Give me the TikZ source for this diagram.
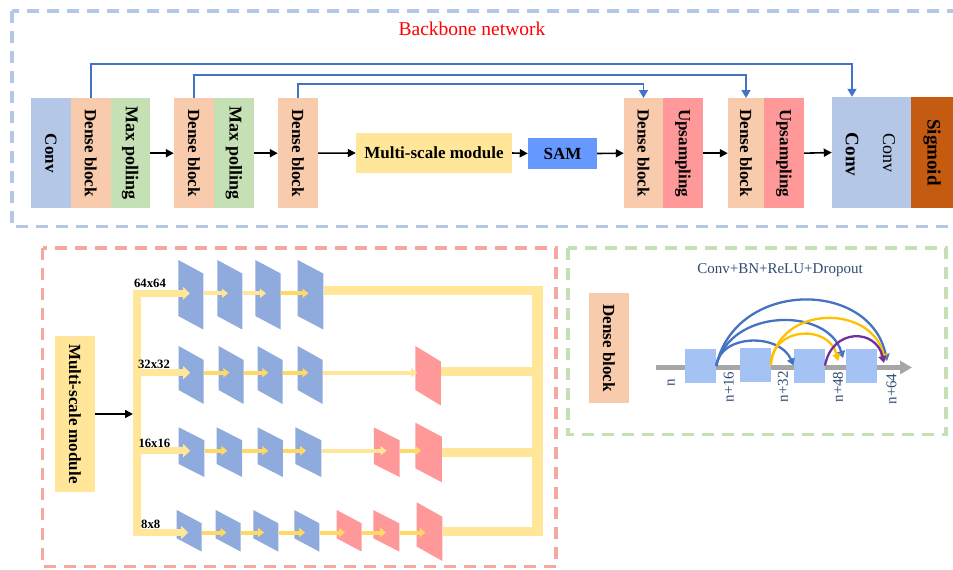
\documentclass[tikz,border=0pt]{standalone}
\usepackage{fontspec}
\setmainfont{Liberation Serif}
\usepackage{graphicx}
\usetikzlibrary{arrows.meta,calc}
\definecolor{cConv}{RGB}{180,199,231}
\definecolor{cPeach}{RGB}{248,203,173}
\definecolor{cGreen}{RGB}{197,224,180}
\definecolor{cYel}{RGB}{255,230,153}
\definecolor{cYelD}{RGB}{255,217,102}
\definecolor{cSam}{RGB}{102,153,255}
\definecolor{cUp}{RGB}{255,153,153}
\definecolor{cSig}{RGB}{197,90,17}
\definecolor{cSkip}{RGB}{68,114,196}
\definecolor{cTrapB}{RGB}{143,170,220}
\definecolor{cTrapR}{RGB}{255,153,153}
\definecolor{cSq}{RGB}{164,194,244}
\definecolor{cGray}{RGB}{166,166,166}
\definecolor{cArcY}{RGB}{255,192,0}
\definecolor{cArcP}{RGB}{112,48,160}
\definecolor{cLab}{RGB}{47,75,115}
\definecolor{cRedBox}{RGB}{245,168,160}
\definecolor{cGreenBox}{RGB}{197,224,180}
\definecolor{cBlueBox}{RGB}{180,199,231}
\newcommand\trp[7]{%
  \fill[#7] (#2,#3) -- ++(#4,#6) -- ++(0,#5) -- ++(-#4,-#6) -- cycle;
  \node[inner sep=0pt, minimum width=#4pt, minimum height=#5pt] (#1) at ({#2+#4/2},{#3+#5/2+#6/2}) {};
}
\tikzset{
  blk/.style={rectangle, inner sep=0pt, minimum height=110pt, font=\fontsize{17}{17}\selectfont\bfseries},
  arr/.style={line width=1.6pt, -{Triangle[length=8pt,width=8pt]}},
  skipline/.style={draw=cSkip, line width=1.6pt, -{Triangle[length=8pt,width=9pt]}},
  dashbox/.style={line width=3.5pt, dash pattern=on 12pt off 8pt},
  barr/.style={draw=cYel, line width=6.5pt, -{Triangle[length=7pt,width=13pt]}, shorten >=-11.7pt},
  iarr/.style={draw=cYelD, line width=4pt, -{Triangle[length=6pt,width=9pt]}, shorten >=-11pt},
  outl/.style={draw=cYel, line width=9pt},
  sq/.style={fill=cSq, inner sep=0pt, minimum width=31pt, minimum height=34pt},
  lab/.style={text=cLab, font=\fontsize{15}{15}\selectfont, inner sep=0pt, rotate=90},
  darc/.style={line width=2.3pt, -{Triangle[length=7pt,width=8pt]}},
  rowlab/.style={font=\fontsize{12.7}{12.7}\selectfont\bfseries, inner sep=0pt},
}
\begin{document}
\begin{tikzpicture}[x=1pt,y=-1pt]
\useasboundingbox (0,0) rectangle (953,570);
% ---------- dashed frames
\draw[dashbox, cBlueBox] (12,11) rectangle (960,226.7);
\draw[dashbox, cRedBox] (42.5,248) rectangle (556,566.7);
\draw[dashbox, cGreenBox] (568,248) rectangle (946,434.3);
\node[text=red, font=\fontsize{19.5}{19.5}\selectfont, inner sep=0pt] (title) at (472,29) {Backbone network};
% ---------- backbone blocks
\node[blk, fill=cConv, minimum width=40pt] (cv1) at (51,153.2) {\rotatebox{-90}{Conv}};
\node[blk, fill=cPeach, minimum width=39.5pt] (db1) at (90.75,153.2) {\rotatebox{-90}{Dense block}};
\node[blk, fill=cGreen, minimum width=39.5pt] (mp1) at (130.25,153.2) {\rotatebox{-90}{\fontsize{18}{18}\selectfont Max polling}};
\node[blk, fill=cPeach, minimum width=40pt] (db2) at (194,153.2) {\rotatebox{-90}{Dense block}};
\node[blk, fill=cGreen, minimum width=40pt] (mp2) at (234,153.2) {\rotatebox{-90}{\fontsize{18}{18}\selectfont Max polling}};
\node[blk, fill=cPeach, minimum width=40pt] (db3) at (298,153.2) {\rotatebox{-90}{Dense block}};
\node[blk, fill=cYel, minimum width=156pt, minimum height=40pt] (ms) at (434,153) {Multi-scale module};
\node[blk, fill=cSam, minimum width=69pt, minimum height=31pt] (sam) at (562.5,153.5) {SAM};
\node[blk, fill=cPeach, minimum width=39pt] (db4) at (643.5,153.2) {\rotatebox{-90}{Dense block}};
\node[blk, fill=cUp, minimum width=40pt] (up1) at (683,153.2) {\rotatebox{-90}{Upsampling}};
\node[blk, fill=cPeach, minimum width=36pt] (db5) at (746,153.2) {\rotatebox{-90}{Dense block}};
\node[blk, fill=cUp, minimum width=40pt] (up2) at (784,153.2) {\rotatebox{-90}{Upsampling}};
\node[blk, fill=cConv, minimum width=79pt, minimum height=111pt] (cv2) at (871.5,152.5) {};
\node[inner sep=0pt, font=\fontsize{19}{19}\selectfont\bfseries] (cva) at (852,154.5) {\rotatebox{-90}{Conv}};
\node[inner sep=0pt, font=\fontsize{18}{18}\selectfont] (cvb) at (889,153) {\rotatebox{-90}{Conv}};
\node[blk, fill=cSig, minimum width=42pt, minimum height=111pt, font=\fontsize{19}{19}\selectfont\bfseries] (sig) at (932,152.5) {\rotatebox{-90}{Sigmoid}};
% main arrows
\draw[arr] (mp1.east) -- (db2.west);
\draw[arr] (mp2.east) -- (db3.west);
\draw[arr] (db3.east) -- (ms.west);
\draw[arr] (ms.east) -- (sam.west);
\draw[arr] (sam.east) -- (db4.west);
\draw[arr] (up1.east) -- (db5.west);
\draw[arr] (up2.east) -- (cv2.west);
% skip connections
\coordinate (k1) at (0,64);
\coordinate (k2) at (0,74.7);
\coordinate (k3) at (0,83.7);
\draw[skipline] (db1.north) -- (db1.north |- k1) -| (cva |- cv2.north);
\draw[skipline] (db2.north) -- (db2.north |- k2) -| (db5.north);
\draw[skipline] (db3.north) -- (db3.north |- k3) -| (db4.north);
% ---------- multi-scale module detail
\node[blk, fill=cYel, minimum width=39.6pt, minimum height=155.4pt] (msb) at (74.8,414) {\rotatebox{-90}{Multi-scale module}};
\fill[cYel] (132.7,290) rectangle (140.7,535.7);
\fill[cYel] (532,286) rectangle (543,535.7);
\coordinate (lb) at (136.7,290);
\coordinate (lbl) at (133,0);
\coordinate (rb) at (537.5,0);
\coordinate (R1) at (0,293.3);
\coordinate (R2) at (0,372.7);
\coordinate (R3) at (0,450.7);
\coordinate (R4) at (0,532.5);
\coordinate (O1) at (0,290.5);
\coordinate (O2) at (0,371.7);
\coordinate (O3) at (0,452.3);
\coordinate (O4) at (0,531.7);
\draw[arr] (msb.east) -- (lbl |- msb.east);
% row 1
\trp{b11}{178.3}{260}{25}{56}{13.5}{cTrapB}
\trp{b12}{217.3}{260}{25}{56}{13.5}{cTrapB}
\trp{b13}{255.3}{260}{25.4}{56}{13.5}{cTrapB}
\trp{b14}{297.7}{260}{25.6}{56}{13.5}{cTrapB}
% row 2
\trp{b21}{178.7}{346}{25}{44}{14}{cTrapB}
\trp{b22}{218.6}{346}{25}{44}{14}{cTrapB}
\trp{b23}{257.5}{346}{25}{44}{14}{cTrapB}
\trp{b24}{297.7}{346}{25}{44}{14}{cTrapB}
\trp{r21}{415.4}{346}{25.4}{44}{15.5}{cTrapR}
% row 3
\trp{b31}{178.7}{427.3}{25.6}{36.7}{13}{cTrapB}
\trp{b32}{216.6}{427.3}{25.6}{36.7}{13}{cTrapB}
\trp{b33}{257.5}{427.3}{25.4}{36.7}{13}{cTrapB}
\trp{b34}{295.4}{427.3}{26}{36.7}{13}{cTrapB}
\trp{r31}{373.8}{427.3}{25.7}{36.7}{13}{cTrapR}
\trp{r32}{415.4}{422.7}{26.4}{45.6}{14}{cTrapR}
% row 4
\trp{b41}{176.7}{510}{25}{28.3}{13.3}{cTrapB}
\trp{b42}{215.7}{510}{25}{28.3}{13.3}{cTrapB}
\trp{b43}{253.3}{510}{25}{28.3}{13.3}{cTrapB}
\trp{b44}{294.3}{510}{25}{28.3}{13.3}{cTrapB}
\trp{r41}{336.7}{510}{25}{28.3}{13.3}{cTrapR}
\trp{r42}{373.3}{510}{26}{28.3}{13.3}{cTrapR}
\trp{r43}{416.7}{502.3}{25.6}{44.3}{14.4}{cTrapR}
% branch arrows
\draw[barr] (lb |- R1) -- (b11.west |- R1);
\draw[barr] (lb |- R2) -- (b21.west |- R2);
\draw[barr] (lb |- R3) -- (b31.west |- R3);
\draw[barr] (lb |- R4) -- (b41.west |- R4);
% inter arrows
\draw[iarr, draw=cYel] (b11.east |- R1) -- (b12.west |- R1);
\draw[iarr, draw=cYel] (b12.east |- R1) -- (b13.west |- R1);
\draw[iarr] (b13.east |- R1) -- (b14.west |- R1);
\draw[iarr] (b21.east |- R2) -- (b22.west |- R2);
\draw[iarr] (b22.east |- R2) -- (b23.west |- R2);
\draw[iarr] (b23.east |- R2) -- (b24.west |- R2);
\draw[iarr, draw=cYel, shorten >=-2pt] (b24.east |- R2) -- (r21.west |- R2);
\draw[iarr] (b31.east |- R3) -- (b32.west |- R3);
\draw[iarr] (b32.east |- R3) -- (b33.west |- R3);
\draw[iarr] (b33.east |- R3) -- (b34.west |- R3);
\draw[iarr, draw=cYel, shorten >=-13pt] (b34.east |- R3) -- (r31.west |- R3);
\draw[iarr, shorten >=-6pt] (r31.east |- R3) -- (r32.west |- R3);
\draw[iarr] (b41.east |- R4) -- (b42.west |- R4);
\draw[iarr] (b42.east |- R4) -- (b43.west |- R4);
\draw[iarr] (b43.east |- R4) -- (b44.west |- R4);
\draw[iarr, shorten >=-8.5pt] (b44.east |- R4) -- (r41.west |- R4);
\draw[iarr, shorten >=-13pt] (r41.east |- R4) -- (r42.west |- R4);
\draw[iarr, shorten >=-9pt] (r42.east |- R4) -- (r43.west |- R4);
% outputs
\draw[outl] (b14.east |- O1) -- (rb |- O1);
\draw[outl] (r21.east |- O2) -- (rb |- O2);
\draw[outl] (r32.east |- O3) -- (rb |- O3);
\draw[outl] (r43.east |- O4) -- (rb |- O4);
% row labels
\node[rowlab] (l64) at (150,283.3) {64x64};
\node[rowlab] (l32) at (154,364.3) {32x32};
\node[rowlab] (l16) at (154.4,443.3) {16x16};
\node[rowlab] (l8) at (150.7,524.3) {8x8};
% ---------- dense block detail
\node[blk, fill=cPeach, minimum width=40pt] (dbd) at (609,348) {\rotatebox{-90}{Dense block}};
\node[text=cLab, font=\fontsize{15}{15}\selectfont, inner sep=0pt] (cbrd) at (780,270) {Conv+BN+ReLU+Dropout};
\coordinate (gs) at (656,367.5);
\coordinate (ge) at (912,367.5);
\draw[draw=cGray, line width=4.5pt, -{Triangle[length=12pt,width=13pt]}] (gs) -- (ge);
\node[sq] (s1) at (700.5,366) {};
\node[sq] (s2) at (755,365) {};
\node[sq] (s3) at (809.3,365.5) {};
\node[sq] (s4) at (861.5,366.3) {};
\coordinate (eB) at (843,358);
\coordinate (eC) at (887,361);
\coordinate (eD) at (838,361);
\coordinate (eE) at (885,361);
\coordinate (eF) at (884,363);
\draw[darc, cSkip] (s1.east) .. controls +(19,-86.5) and +(-17,-82) .. (eC);
\draw[darc, cSkip] (s1.east) .. controls +(14,-58.5) and +(-15,-51) .. (eB);
\draw[darc, cSkip] (s1.east) .. controls +(4,-32.5) and +(-14,-32.5) .. (s3.west);
\draw[darc, cArcY] (s2.east) .. controls +(7.5,-61) and +(-13,-57) .. (eE);
\draw[darc, cArcY] (s2.east) .. controls +(2,-40) and +(-8,-36) .. (eD);
\draw[darc, cArcP] (s3.east) .. controls +(7,-37.5) and +(-8,-35) .. (eF);
\node[lab] (ln) at (671,383) {n};
\node[lab] (ln16) at (728.6,387) {n+16};
\node[lab] (ln32) at (783,386.7) {n+32};
\node[lab] (ln48) at (838,387) {n+48};
\node[lab] (ln64) at (891.4,389) {n+64};
\end{tikzpicture}
\end{document}
